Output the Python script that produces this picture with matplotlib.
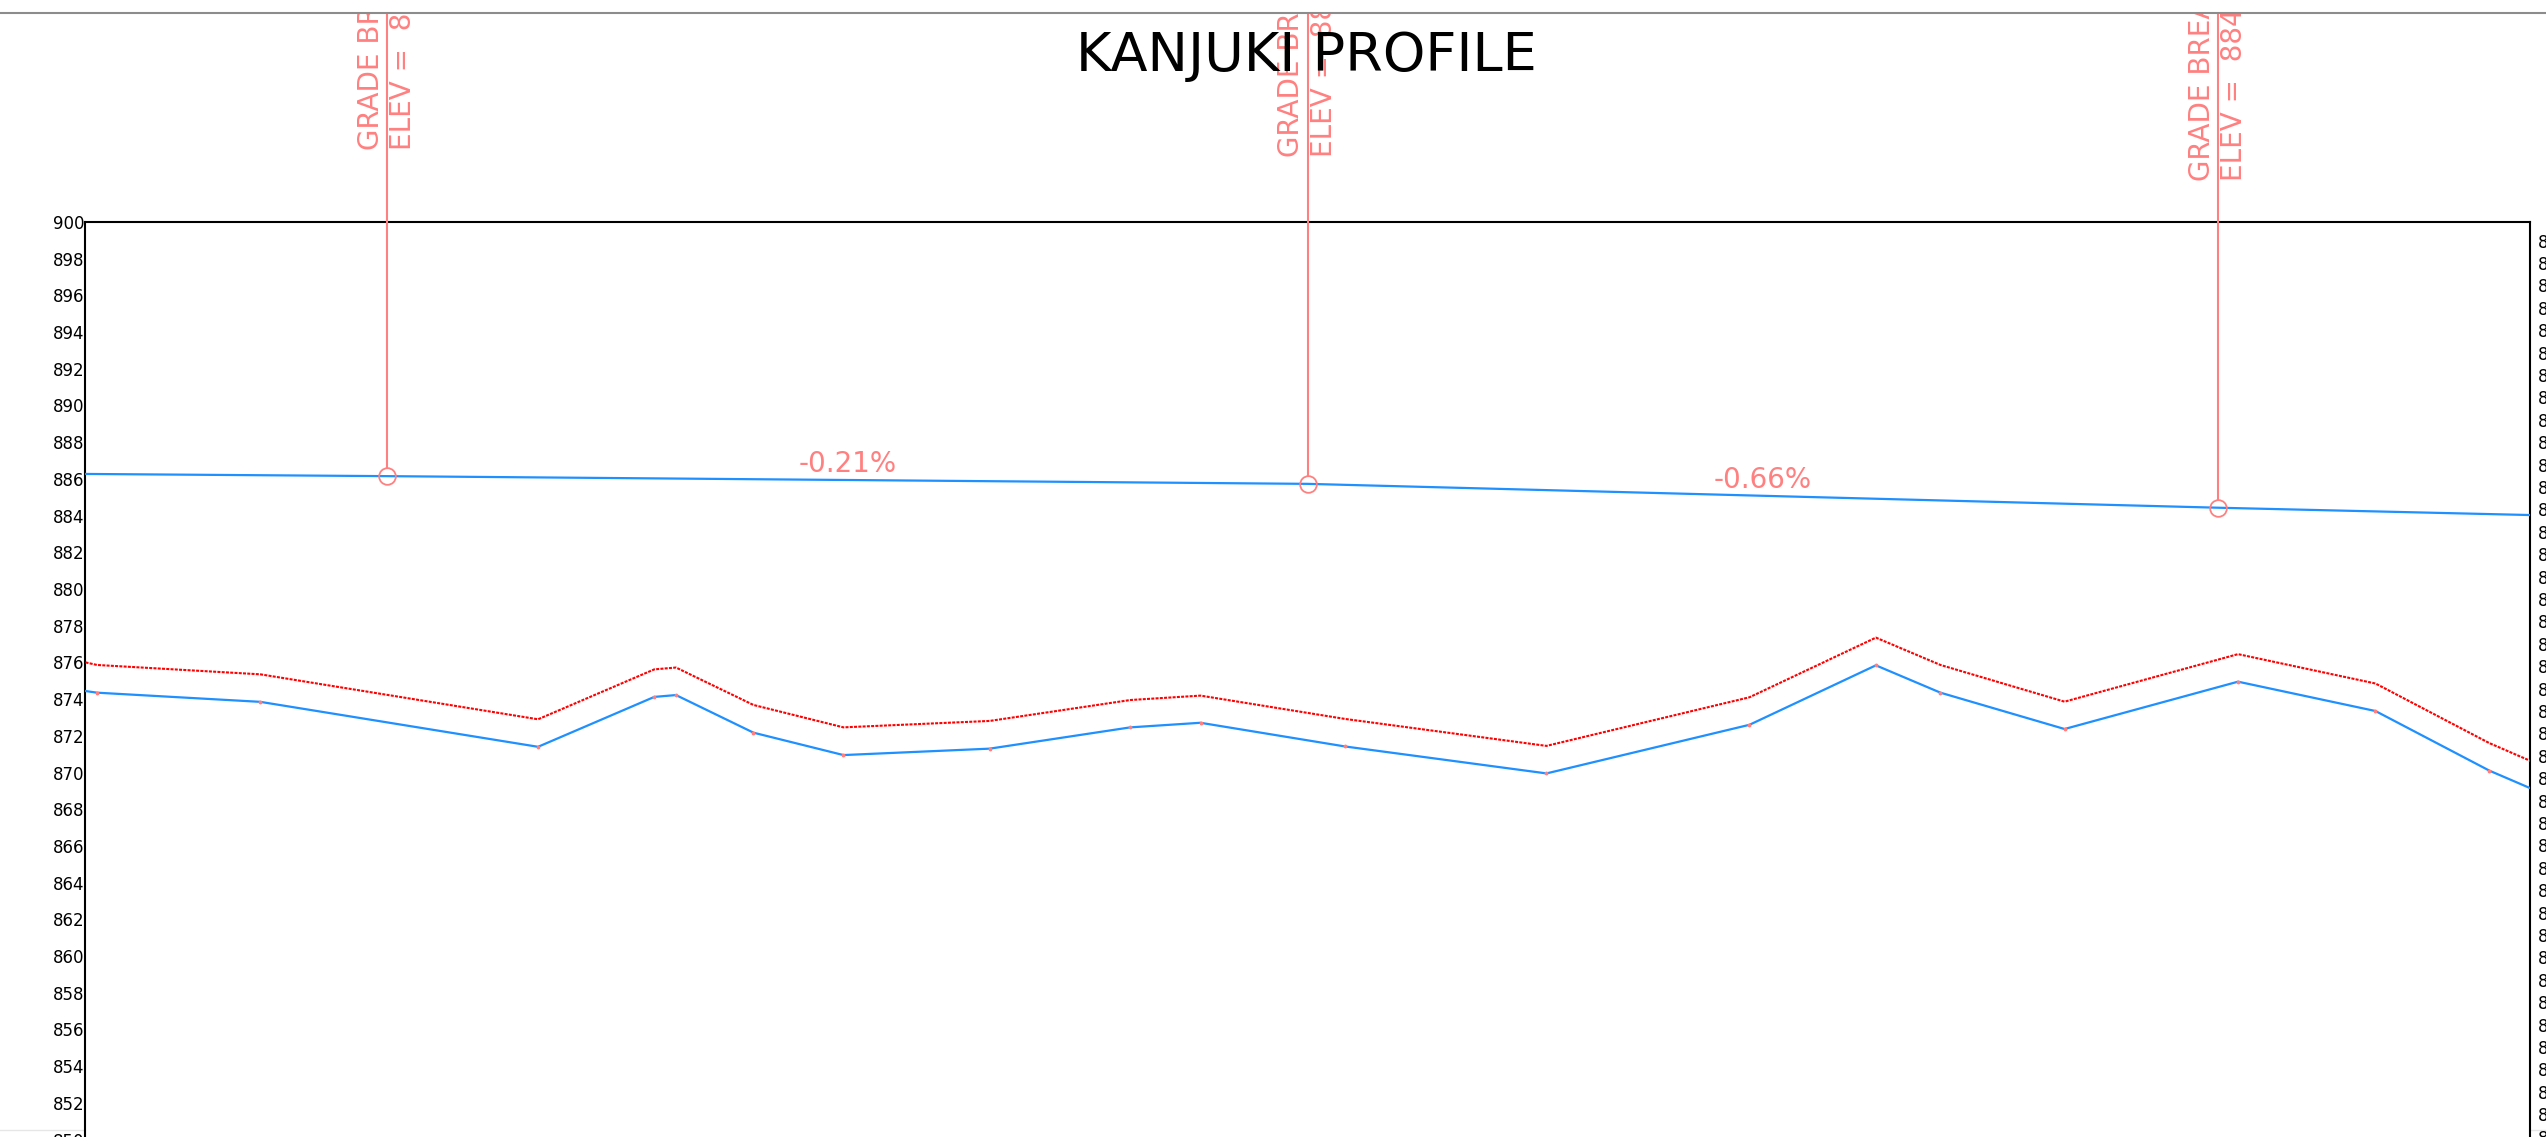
import matplotlib
matplotlib.use("Agg")
import matplotlib.pyplot as plt
from matplotlib.lines import Line2D
from matplotlib.patches import Rectangle

# chainage (m) of the surveyed points
chainage = [0.0, 2.5, 37.9, 98.1, 123.3, 128.0, 144.8, 164.3, 196.0, 226.5, 241.7,
            273.0, 316.7, 360.7, 388.1, 402.1, 429.0, 466.6, 496.4, 521.1, 530.0]
# upper ground line (red dashed) and lower ground line (blue)
ground_top = [876.00, 875.86, 875.35, 872.90, 875.62, 875.72, 873.68, 872.46, 872.81, 873.95, 874.19,
              872.92, 871.45, 874.10, 877.35, 875.86, 873.86, 876.45, 874.85, 871.60, 870.63]
ground_low = [874.44, 874.35, 873.85, 871.40, 874.12, 874.22, 872.17, 870.95, 871.30, 872.46, 872.71,
              871.42, 869.95, 872.60, 875.84, 874.35, 872.37, 874.95, 873.35, 870.10, 869.14]

# design grade line
design_ch = [0.0, 65.4, 264.9, 462.2, 530.0]
design_elev = [886.27, 886.15, 885.73, 884.43, 884.03]
break_idx = [1, 2, 3]
grade_labels = ["-0.21%", "-0.66%"]

right_ticks = list(range(848, 889))

pink = "#ff8080"
blue = "#1e90ff"

fig = plt.figure(figsize=(25.46, 11.37), dpi=100)
ax = fig.add_axes([0.03358, -0.0022, 0.96033, 0.80695])

ax.plot(chainage, ground_top, color="red", lw=1.5, ls=(0, (1.45, 0.6)), zorder=3)
ax.plot(chainage, ground_low, color=blue, lw=1.6, zorder=3)
ax.plot(chainage[1:-1], ground_low[1:-1], ls="none", marker="o", ms=1.8, color=pink, zorder=4)
ax.plot(design_ch, design_elev, color=blue, lw=1.6, zorder=3)

# grade breaks
for i in break_idx:
    ch = design_ch[i]
    el = design_elev[i]
    ax.plot([ch], [el], marker="o", ms=12, mfc="none", mec=pink, mew=1.3, zorder=5)
    ax.plot([ch, ch], [el + 0.45, el + 60], color=pink, lw=1.5, clip_on=False, zorder=5)
    ax.text(ch, el + 17.8, "GRADE BREAK\nELEV =  %.2f" % el, rotation=90, color=pink,
            fontsize=20, ha="center", va="bottom", multialignment="left", clip_on=False)

# grade percentages
for k, lab in enumerate(grade_labels):
    a, b = break_idx[k], break_idx[k] + 1
    xm = (design_ch[a] + design_ch[b]) / 2
    ym = (design_elev[a] + design_elev[b]) / 2
    ax.text(xm, ym + 0.12, lab, color=pink, fontsize=20, ha="center", va="bottom")

ax.set_xlim(0, 530)
ax.set_ylim(850, 900)
ax.set_yticks(range(850, 901, 2))
ax.set_xticks([])
ax.tick_params(axis="y", length=0, pad=1, labelsize=12)
for s in ax.spines.values():
    s.set_linewidth(1.5)

ax2 = ax.twinx()
ax2.set_ylim(847.87, 888.83)
ax2.set_yticks(right_ticks)
ax2.tick_params(axis="y", length=0, pad=5, labelsize=12)
for s in ax2.spines.values():
    s.set_visible(False)

fig.text(0.5133, 1 - 71 / 1137, "KANJUKI PROFILE", fontsize=39, ha="center", va="baseline")

# page edge at the top hides everything above it
fig.patches.append(Rectangle((0, 1 - 13 / 1137), 1, 13 / 1137, transform=fig.transFigure,
                             facecolor="white", edgecolor="none", zorder=20))
fig.lines.append(Line2D([0, 1], [1 - 13 / 1137] * 2, transform=fig.transFigure,
                        color="#8c8c8c", lw=1.5, zorder=21))
fig.lines.append(Line2D([0, 1], [1 - 1130 / 1137] * 2, transform=fig.transFigure,
                        color="#e6e6e6", lw=1, zorder=-1))

fig.savefig("out.png", dpi=100)
